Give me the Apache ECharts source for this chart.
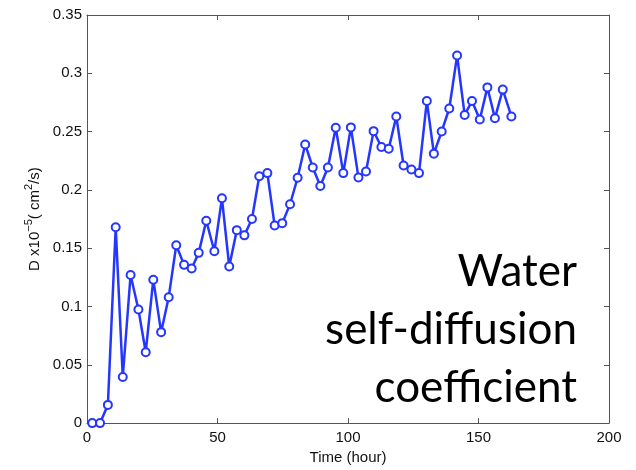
<!DOCTYPE html>
<html>
<head>
<meta charset="utf-8">
<script src="https://cdn.jsdelivr.net/npm/echarts@6/dist/echarts.min.js"></script>
<style>
html,body{margin:0;padding:0;background:#fff;}
#chart{width:636px;height:470px;}
</style>
</head>
<body>
<div id="chart"></div>
<script>
// time of each measurement (hour)
var hours = [2.0, 5.0, 8.0, 11.0, 13.7, 16.7, 19.7, 22.5, 25.4, 28.4,
    31.3, 34.2, 37.2, 40.1, 42.8, 45.7, 48.8, 51.7, 54.5, 57.4,
    60.3, 63.2, 66.0, 69.1, 71.9, 74.8, 77.8, 80.7, 83.6, 86.5,
    89.4, 92.3, 95.3, 98.2, 101.1, 104.0, 106.9, 109.8, 112.8, 115.6,
    118.5, 121.3, 124.3, 127.2, 130.2, 132.9, 135.9, 138.8, 141.8, 144.7,
    147.5, 150.5, 153.4, 156.3, 159.3, 162.6];
// D x10^-5 (cm^2/s)
var dValues = [0, 0, 0.0156, 0.168, 0.0395, 0.127, 0.0974, 0.0608, 0.123, 0.078,
    0.108, 0.1525, 0.1357, 0.1326, 0.146, 0.1735, 0.1474, 0.1928, 0.1343, 0.1655,
    0.161, 0.175, 0.2117, 0.2144, 0.1695, 0.1715, 0.1877, 0.2104, 0.239, 0.2192,
    0.2033, 0.2192, 0.2533, 0.2144, 0.2536, 0.2107, 0.2158, 0.2504, 0.2368, 0.2353,
    0.263, 0.2209, 0.2175, 0.2144, 0.2762, 0.2311, 0.2501, 0.2698, 0.3152, 0.2643,
    0.2762, 0.2604, 0.2879, 0.2615, 0.286, 0.263];
var xTicks = [0, 50, 100, 150, 200];
var yTicks = [0, 0.05, 0.1, 0.15, 0.2, 0.25, 0.3, 0.35];
var noteLines = ['Water', 'self-diffusion', 'coefficient'];

var points = [];
for (var i = 0; i < hours.length; i++) {
    points.push([hours[i], dValues[i]]);
}

var axisColor = '#555';
var labelFont = 'Liberation Sans, Arial, sans-serif';

// big note on the right, one text per line so each is right aligned
var noteGraphics = [];
for (var k = 0; k < noteLines.length; k++) {
    noteGraphics.push({
        type: 'text',
        right: 59,
        top: 250 + k * 58,
        style: {
            text: noteLines[k],
            font: '44px Lato, "Open Sans", sans-serif',
            fill: '#000'
        }
    });
}

var chart = echarts.init(document.getElementById('chart'));
var option = {
    animation: false,
    grid: { left: 87, right: 27, top: 15, bottom: 44 },
    xAxis: [{
        type: 'value',
        min: xTicks[0],
        max: xTicks[xTicks.length - 1],
        interval: 50,
        name: 'Time (hour)',
        nameLocation: 'middle',
        nameGap: 26,
        nameTextStyle: { fontFamily: labelFont, fontSize: 15, color: '#111' },
        axisLine: { onZero: false, lineStyle: { color: axisColor, width: 1 } },
        axisTick: { inside: true, length: 5, lineStyle: { color: axisColor } },
        axisLabel: { fontFamily: labelFont, fontSize: 15, color: '#111', margin: 7 },
        splitLine: { show: false }
    }, {
        type: 'value',
        position: 'top',
        min: xTicks[0],
        max: xTicks[xTicks.length - 1],
        interval: 50,
        axisLine: { show: true, onZero: false, lineStyle: { color: axisColor, width: 1 } },
        axisTick: { inside: true, length: 5, lineStyle: { color: axisColor } },
        axisLabel: { show: false },
        splitLine: { show: false }
    }],
    yAxis: [{
        type: 'value',
        min: yTicks[0],
        max: yTicks[yTicks.length - 1],
        interval: 0.05,
        name: '{n|D x10}{s|−5}{n|( cm}{s|2}{n|/s)}',
        nameLocation: 'middle',
        nameRotate: 90,
        nameGap: 44,
        nameTextStyle: {
            rich: {
                n: { fontFamily: labelFont, fontSize: 15, color: '#111', verticalAlign: 'bottom', lineHeight: 18 },
                s: { fontFamily: labelFont, fontSize: 11, color: '#111', verticalAlign: 'top', lineHeight: 12 }
            }
        },
        axisLine: { show: true, onZero: false, lineStyle: { color: axisColor, width: 1 } },
        axisTick: { show: true, inside: true, length: 5, lineStyle: { color: axisColor } },
        axisLabel: {
            fontFamily: labelFont, fontSize: 15, color: '#111', margin: 5,
            formatter: function (v) { return String(+v.toFixed(2)); }
        },
        splitLine: { show: false }
    }, {
        type: 'value',
        position: 'right',
        min: yTicks[0],
        max: yTicks[yTicks.length - 1],
        interval: 0.05,
        axisLine: { show: true, onZero: false, lineStyle: { color: axisColor, width: 1 } },
        axisTick: { show: true, inside: true, length: 5, lineStyle: { color: axisColor } },
        axisLabel: { show: false },
        splitLine: { show: false }
    }],
    series: [{
        type: 'line',
        data: points,
        symbol: 'emptyCircle',
        symbolSize: 8,
        lineStyle: { color: '#2536ff', width: 2.5 },
        itemStyle: { color: '#2536ff', borderWidth: 2.5 },
        z: 3
    }],
    graphic: noteGraphics
};
chart.setOption(option);
</script>
</body>
</html>
